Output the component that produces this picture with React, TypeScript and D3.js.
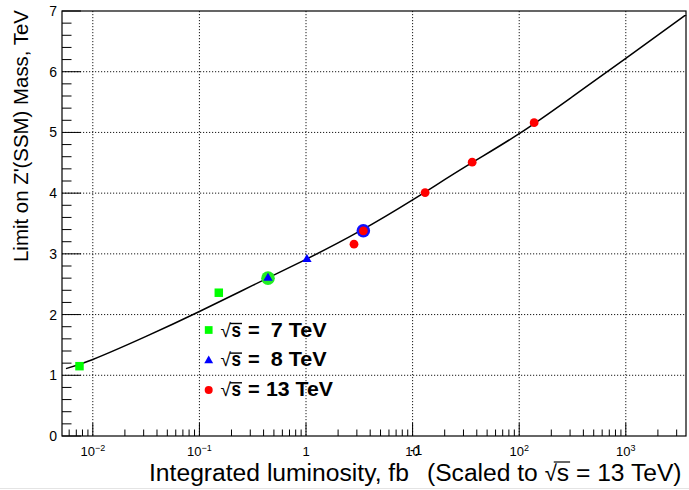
import * as d3 from "d3";

// fit curve (lumi in fb^-1, mass in TeV)
const curveLumi = [0.0056, 0.01, 0.0316, 0.1, 0.316, 1, 3.16, 10, 31.6, 100, 316, 1000, 3680];
const curveMass = [1.11, 1.26, 1.64, 2.05, 2.48, 2.91, 3.37, 3.89, 4.44, 4.98, 5.59, 6.22, 6.94];

const lumi7 = [0.0075, 0.152];
const mass7 = [1.15, 2.36];
const lumi8 = [0.44, 1.02];
const mass8 = [2.6, 2.91];
const lumi13 = [2.82, 3.45, 13.1, 36.2, 138];
const mass13 = [3.16, 3.38, 4.01, 4.51, 5.16];

// highlighted points (big circles behind markers)
const hlLumi = [0.44, 3.45];
const hlMass = [2.6, 3.38];
const hlColor = ["#22ee22", "#1010ff"];

const legendLabels = ["7 TeV", "8 TeV", "13 TeV"];
const xTickLabels: Record<string, [string, string]> = {
  "0.01": ["10", "\u22122"],
  "0.1": ["10", "\u22121"],
  "1": ["1", ""],
  "10": ["10", ""],
  "100": ["10", "2"],
  "1000": ["10", "3"],
};

const W = 689;
const H = 490;
const FRAME = { left: 62, right: 686, top: 11, bottom: 436 };
const FONT = "'Liberation Sans', Arial, Helvetica, sans-serif";
const GREEN = "#00ff00";
const BLUE = "#0000ff";
const RED = "#ff0000";
const GRID_DASH = "1.2,1.8";

function measureText(text: string, size: number, weight = "normal") {
  const canvas = document.createElement("canvas");
  const ctx = canvas.getContext("2d")!;
  ctx.font = `${weight} ${size}px 'Liberation Sans', Arial, sans-serif`;
  return ctx.measureText(text).width;
}

// lay pieces of a text out one after another, scaled to fill [startX, endX]
function fitPieces(parts: { t: string; size: number }[], startX: number, endX: number) {
  const base = 24;
  const w0 = parts.reduce((a, p) => a + measureText(p.t, base * p.size), 0);
  const k = (endX - startX) / w0;
  let x = startX;
  return parts.map((p) => {
    const size = base * p.size * k;
    const w = measureText(p.t, size);
    const out = { ...p, x, w, fs: size };
    x += w;
    return out;
  });
}

export default function App() {
  const xScale = d3
    .scaleLog()
    .domain([0.00514, 3670])
    .range([FRAME.left, FRAME.right]);
  const yScale = d3
    .scaleLinear()
    .domain([0, 7])
    .range([FRAME.bottom, FRAME.top]);

  const xTicks = xScale.ticks();
  const isMajor = (v: number) => Math.abs(Math.log10(v) - Math.round(Math.log10(v))) < 1e-6;
  const xMajor = xTicks.filter(isMajor);
  const xMinor = xTicks.filter((v) => !isMajor(v));
  const yMinor = yScale.ticks(35);
  const yMajor = yScale.ticks(7);

  const line = d3
    .line<number>()
    .x((_, i) => xScale(curveLumi[i]))
    .y((d) => yScale(d))
    .curve(d3.curveNatural);

  const square = d3.symbol(d3.symbolSquare, 72)();
  const triangle = d3.symbol(d3.symbolTriangle, 38)();
  const legSquare = d3.symbol(d3.symbolSquare, 60)();
  const legTriangle = d3.symbol(d3.symbolTriangle, 34)();

  const legX = 208.7;
  const legBase = [336.7, 366.3, 396];
  const legMarkY = [330, 360.7, 390];

  const head = fitPieces([{ t: "Integrated luminosity, fb", size: 1 }], 149, 409)[0];
  const title = fitPieces(
    [
      { t: "(Scaled to\u00A0", size: 1 },
      { t: "\u221A", size: 0.9 },
      { t: "s", size: 1 },
      { t: "\u00A0= 13 TeV)", size: 1 },
    ],
    427,
    682,
  );

  return (
    <svg
      width={W}
      height={H}
      style={{ position: "absolute", left: 0, top: 0, background: "#fff" }}
      xmlns="http://www.w3.org/2000/svg"
    >
      <rect x={0} y={0} width={W} height={H} fill="#fff" />
      <line x1={0} x2={W} y1={488.5} y2={488.5} stroke="#e4e4e4" />

      {/* grid */}
      <g className="grid" stroke="#000" strokeWidth={0.9} strokeDasharray={GRID_DASH}>
        {xMajor.map((v) => (
          <line key={v} x1={xScale(v)} x2={xScale(v)} y1={FRAME.top} y2={FRAME.bottom} />
        ))}
        {yMajor
          .filter((v) => v > 0 && v < 7)
          .map((v) => (
            <line key={v} x1={FRAME.left} x2={FRAME.right} y1={yScale(v)} y2={yScale(v)} />
          ))}
      </g>

      {/* ticks */}
      <g className="ticks" stroke="#000" strokeWidth={1}>
        {yMinor.map((v) => {
          const major = Math.abs(v - Math.round(v)) < 1e-6;
          return (
            <line
              key={v}
              x1={FRAME.left}
              x2={FRAME.left + (major ? 19 : 9.5)}
              y1={yScale(v)}
              y2={yScale(v)}
            />
          );
        })}
        {xMajor.map((v) => (
          <line key={v} x1={xScale(v)} x2={xScale(v)} y1={FRAME.bottom} y2={FRAME.bottom - 13} />
        ))}
        {xMinor.map((v) => (
          <line key={v} x1={xScale(v)} x2={xScale(v)} y1={FRAME.bottom} y2={FRAME.bottom - 6.5} />
        ))}
      </g>

      <rect
        x={FRAME.left}
        y={FRAME.top}
        width={FRAME.right - FRAME.left}
        height={FRAME.bottom - FRAME.top}
        fill="none"
        stroke="#000"
        strokeWidth={1.2}
      />

      {/* y tick labels */}
      <g fontFamily={FONT} fontSize={14} fill="#000">
        {yMajor.map((v) => (
          <text key={v} x={57} y={yScale(v)} textAnchor="end" dominantBaseline="central">
            {v}
          </text>
        ))}
      </g>

      {/* x tick labels */}
      <g fontFamily={FONT} fontSize={13} fill="#000">
        {xMajor.map((v) => {
          const lab = xTickLabels[String(v)];
          if (!lab) return null;
          return (
            <text key={v} x={xScale(v)} y={456} textAnchor="middle">
              {lab[0]}
              {lab[1] && (
                <tspan fontSize={9} dy={-5}>
                  {lab[1]}
                </tspan>
              )}
            </text>
          );
        })}
      </g>

      {/* fit curve */}
      <path d={line(curveMass) ?? undefined} fill="none" stroke="#000" strokeWidth={1.5} />

      {/* highlight circles */}
      {hlLumi.map((l, i) => (
        <circle key={i} cx={xScale(l)} cy={yScale(hlMass[i])} r={6.8} fill={hlColor[i]} />
      ))}

      {lumi7.map((l, i) => (
        <path
          key={i}
          d={square ?? undefined}
          transform={`translate(${xScale(l)},${yScale(mass7[i])})`}
          fill={GREEN}
        />
      ))}
      {lumi8.map((l, i) => (
        <path
          key={i}
          d={triangle ?? undefined}
          transform={`translate(${xScale(l)},${yScale(mass8[i])})`}
          fill={BLUE}
        />
      ))}
      {lumi13.map((l, i) => (
        <circle key={i} cx={xScale(l)} cy={yScale(mass13[i])} r={4.4} fill={RED} />
      ))}

      {/* legend */}
      <path d={legSquare ?? undefined} transform={`translate(${legX},${legMarkY[0]})`} fill={GREEN} />
      <path d={legTriangle ?? undefined} transform={`translate(${legX},${legMarkY[1]})`} fill={BLUE} />
      <circle cx={legX} cy={legMarkY[2]} r={4} fill={RED} />
      <g fontFamily={FONT} fontSize={20} fontWeight="bold" fill="#000">
        {legendLabels.map((lab, i) => {
          const b = legBase[i];
          const wide = lab.length > 5;
          return (
            <g key={lab}>
              <text x={220.5} y={b} fontWeight="normal" fontSize={19}>
                {"\u221A"}
              </text>
              <line x1={230} x2={242} y1={b - 13.2} y2={b - 13.2} stroke="#000" strokeWidth={1.4} />
              <text x={231.5} y={b} textLength={9.5} lengthAdjust="spacingAndGlyphs">
                s
              </text>
              <text x={248} y={b}>
                =
              </text>
              <text
                x={wide ? 266 : 270.7}
                y={b}
                textLength={wide ? 67 : 56}
                lengthAdjust="spacingAndGlyphs"
              >
                {lab}
              </text>
            </g>
          );
        })}
      </g>

      {/* x axis title */}
      <g fontFamily={FONT} fill="#000">
        <text x={head.x} y={481} fontSize={head.fs}>
          {head.t}
        </text>
        <text x={head.x + head.w + 1} y={455} fontSize={14}>
          -1
        </text>
        {title.map((p, i) => (
          <text key={i} x={p.x} y={481} fontSize={p.fs}>
            {p.t}
          </text>
        ))}
        <line
          x1={title[1].x + title[1].w * 0.75}
          x2={title[2].x + title[2].w + 1}
          y1={462}
          y2={462}
          stroke="#000"
          strokeWidth={1.2}
        />
      </g>

      {/* y axis title */}
      <text
        transform="translate(27.5,262) rotate(-90)"
        fontFamily={FONT}
        fontSize={19.5}
        textLength={252}
        lengthAdjust="spacingAndGlyphs"
        fill="#000"
      >
        Limit on Z'(SSM) Mass, TeV
      </text>
    </svg>
  );
}
